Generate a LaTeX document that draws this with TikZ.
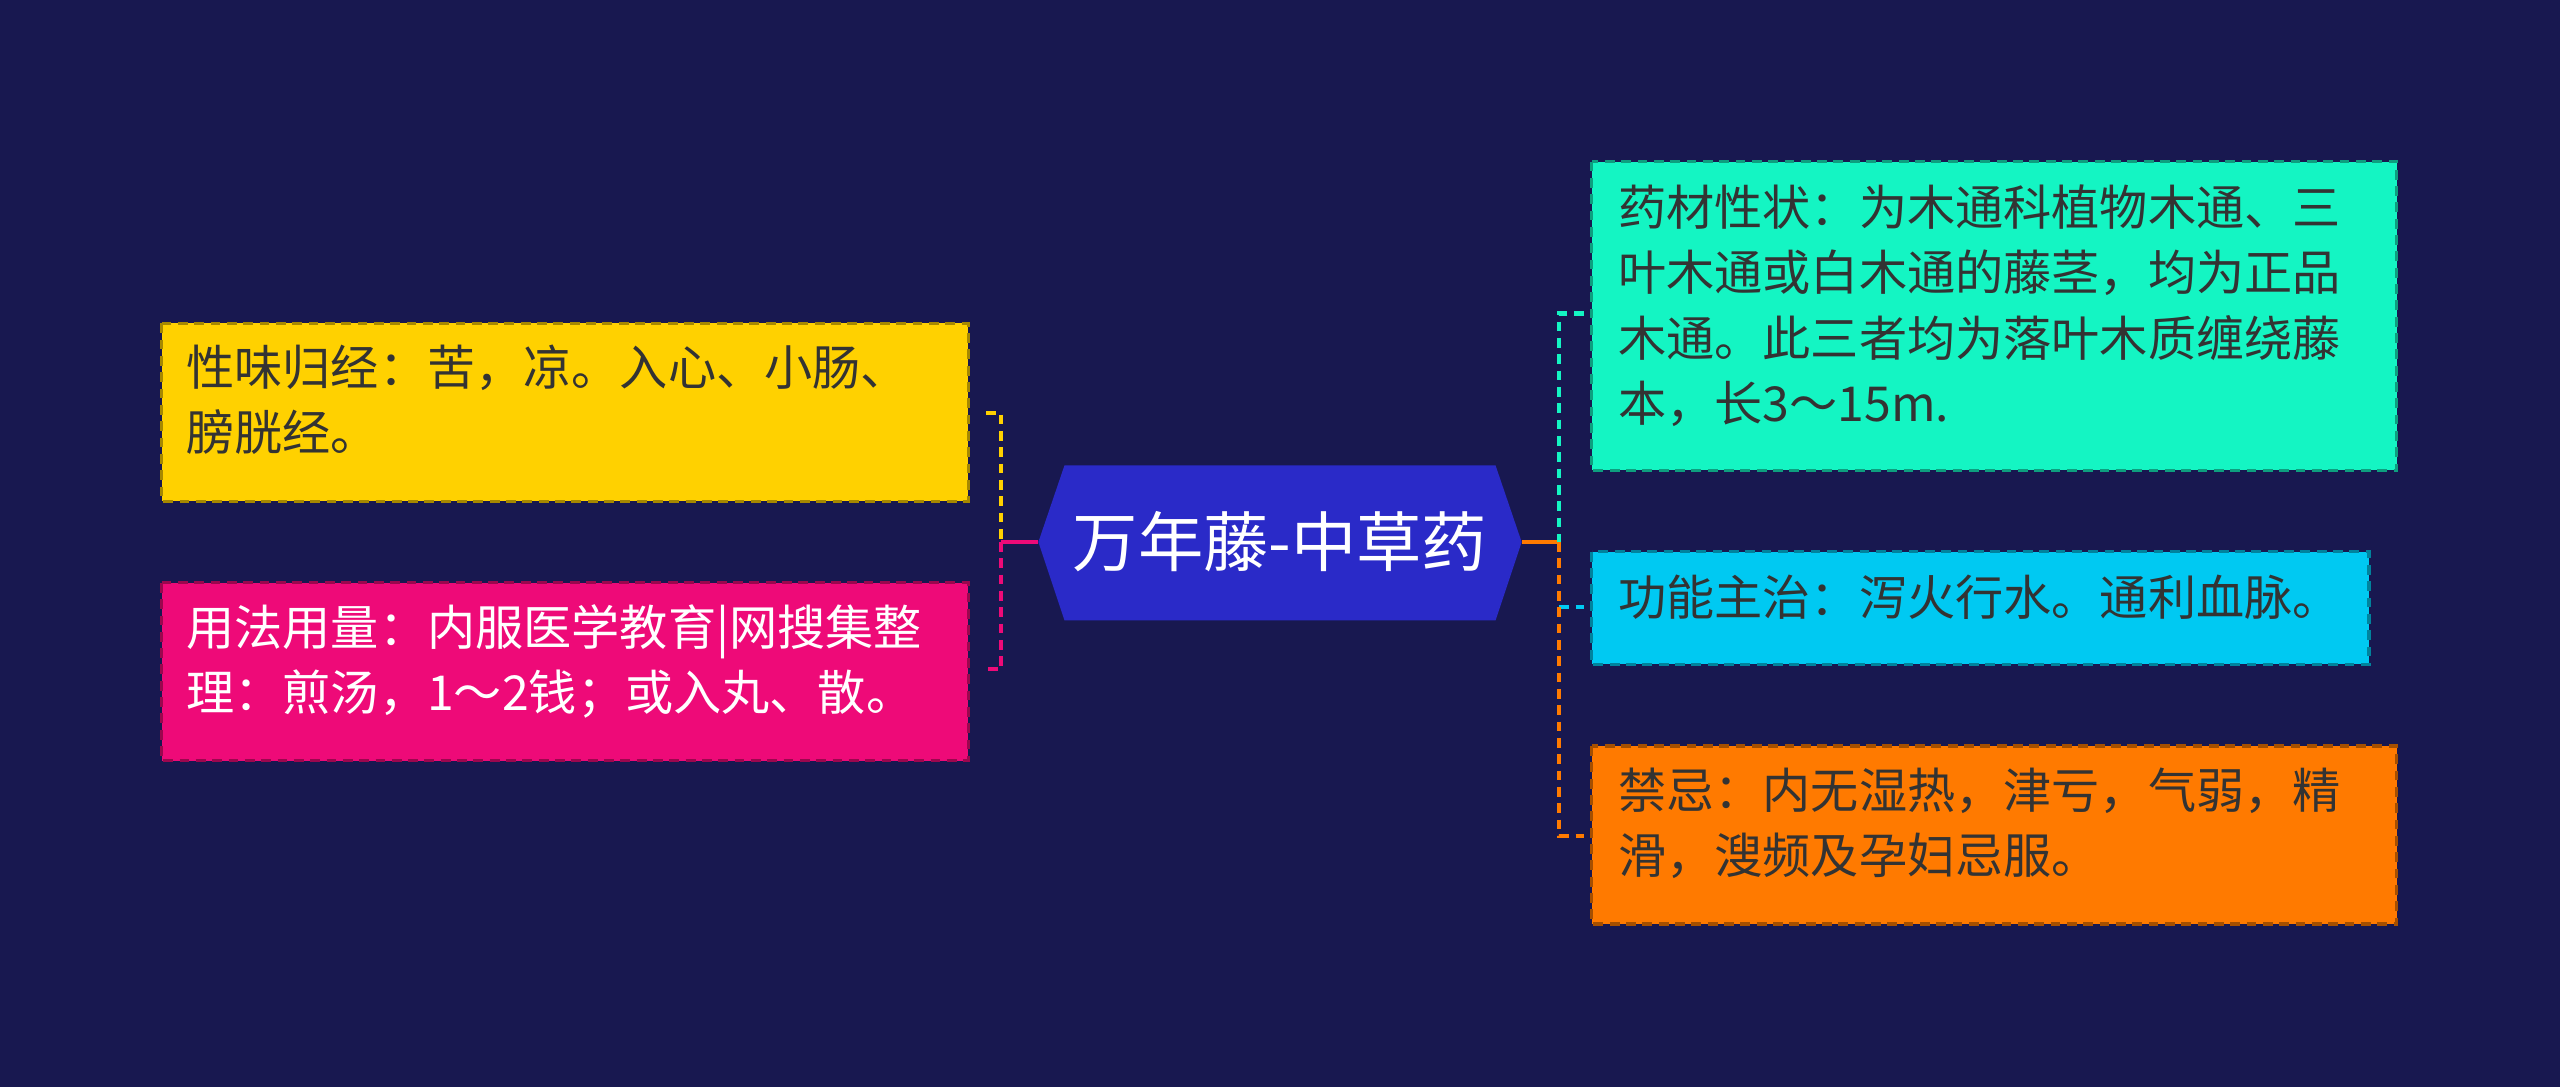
\documentclass[tikz,border=0pt]{standalone}
\usepackage{fontspec}
\setmainfont{Noto Sans CJK SC}
\usetikzlibrary{shapes.geometric}
\definecolor{bg}{HTML}{181850}
\definecolor{hub}{HTML}{2A2AC8}
\definecolor{cy}{HTML}{FFD100}
\definecolor{cp}{HTML}{EE0A78}
\definecolor{ct}{HTML}{14F5C3}
\definecolor{cc}{HTML}{00C9F2}
\definecolor{co}{HTML}{FF7A00}
\definecolor{dk}{HTML}{333333}
\tikzset{
 leaf/.style={draw=#1!65!black, dashed, dash pattern=on 6pt off 4pt, line width=2pt, fill=#1, anchor=north west, inner sep=0pt},
 txt/.style={anchor=north west, align=left, font=\fontsize{29.5}{40}\selectfont, inner sep=0pt},
 conn/.style={line width=2.5pt, dash pattern=on 6pt off 4pt}
}
\begin{document}
\begin{tikzpicture}[x=1pt,y=-1pt]
\fill[bg] (0,0) rectangle (1568,666);
\useasboundingbox (0,0) rectangle (1568,666);
% hub
\fill[hub] (636,332) -- (652,285) -- (916,285) -- (932,332) -- (916,380) -- (652,380) -- cycle;
\node[text=white, font=\fontsize{40}{44}\selectfont] (hub) at (784,332) {万年藤-中草药};
% left boxes
\draw[leaf=cy] (99,198) rectangle (593,307);
\node[txt, text=dk] (a) at (114,211) {性味归经：苦，凉。入心、小肠、\\膀胱经。};
\draw[leaf=cp] (99,357) rectangle (593,466);
\node[txt, text=white] (b) at (114,370) {用法用量：内服医学教育|网搜集整\\理：煎汤，1～2钱；或入丸、散。};
% right boxes
\draw[leaf=ct] (975,99) rectangle (1468,288);
\node[txt, text=dk] (c) at (991,113) {药材性状：为木通科植物木通、三\\叶木通或白木通的藤茎，均为正品\\木通。此三者均为落叶木质缠绕藤\\本，长3～15m.};
\draw[leaf=cc] (975,338) rectangle (1451,407);
\node[txt, text=dk] (d) at (991,352) {功能主治：泻火行水。通利血脉。};
\draw[leaf=co] (975,457) rectangle (1468,566);
\node[txt, text=dk] (e) at (991,470) {禁忌：内无湿热，津亏，气弱，精\\滑，溲频及孕妇忌服。};
% left connectors
\draw[cp, line width=3pt] (636,332) -- (613,332);
\draw[conn, cy] (604,253) -- (613,253) -- (613,332);
\draw[conn, cp] (613,332) -- (613,410) -- (604,410);
% right connectors
\draw[co, line width=3pt] (932,332) -- (955,332);
\draw[conn, ct] (970,192) -- (955,192) -- (955,332);
\draw[conn, cc] (955,372) -- (970,372);
\draw[conn, co] (955,332) -- (955,512) -- (970,512);
\end{tikzpicture}
\end{document}
